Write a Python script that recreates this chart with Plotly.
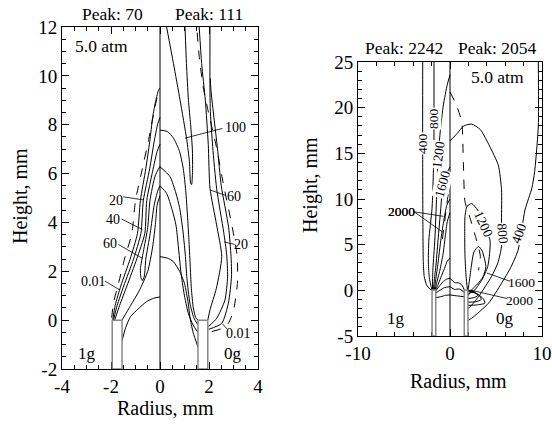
import plotly.graph_objects as go

FONT = "Liberation Serif"

# ---------------- Left panel (Peak: 70 / Peak: 111) ----------------
# 1g half (x < 0)
A_dashed = [(-1.97, 0.1), (-1.9, 0.7), (-1.72, 1.4), (-1.45, 2.5), (-1.15, 3.55), (-1.0, 4.9),
            (-0.72, 6.2), (-0.46, 7.4), (-0.27, 8.4), (-0.12, 9.1), (-0.03, 9.35)]
A_001 = [(-1.93, 0.0), (-1.83, 0.6), (-1.6, 1.4), (-1.22, 2.5), (-0.92, 3.55), (-0.8, 4.9),
         (-0.58, 6.2), (-0.42, 7.3), (-0.3, 8.3), (-0.17, 9.0), (-0.06, 9.42), (0.0, 9.5)]
A_20 = [(-1.9, 0.0), (-1.75, 0.6), (-1.48, 1.4), (-1.08, 2.5), (-0.78, 3.55), (-0.68, 4.9),
        (-0.42, 6.2), (-0.24, 7.3), (-0.09, 8.05), (0.0, 8.3)]
A_40 = [(-1.85, 0.0), (-1.65, 0.6), (-1.35, 1.4), (-0.95, 2.5), (-0.62, 3.55), (-0.54, 4.9),
        (-0.3, 6.1), (-0.12, 6.9), (0.0, 7.2)]
A_60 = [(0.0, 6.3), (-0.2, 5.9), (-0.41, 4.9), (-0.5, 3.8), (-0.68, 2.8), (-0.8, 2.1), (-0.78, 1.75),
        (-0.72, 1.62), (-0.64, 1.8), (-0.58, 2.5), (-0.4, 3.55), (-0.24, 4.7), (-0.09, 5.3), (0.0, 5.5)]
A_inner = [(-1.55, 0.0), (-1.2, 0.6), (-0.85, 1.2), (-0.5, 2.0), (-0.3, 3.0), (-0.18, 4.0),
           (-0.12, 4.7), (0.0, 5.1)]
A_low = [(-1.55, -0.85), (-1.4, -0.3), (-1.2, 0.15), (-0.9, 0.45), (-0.55, 0.76), (-0.25, 0.9), (0.0, 0.95)]

# 0g half (x > 0)
B_c0 = [(0.0, 2.6), (0.3, 2.54), (0.54, 2.4), (0.8, 2.0), (1.0, 1.5), (1.15, 0.7), (1.22, 0.14),
        (1.35, -0.5), (1.55, -1.1)]
B_c1 = [(0.0, 5.5), (0.27, 5.19), (0.5, 4.5), (0.65, 3.9), (0.75, 3.0), (0.85, 2.0), (0.98, 1.1),
        (1.15, 0.3), (1.35, -0.2), (1.55, -0.5)]
B_c2 = [(0.0, 6.28), (0.41, 5.87), (0.65, 5.2), (0.8, 4.6), (0.93, 3.7), (1.03, 2.7), (1.1, 1.7),
        (1.22, 0.7), (1.38, 0.1), (1.55, -0.2)]
B_c3 = [(0.0, 7.78), (0.3, 7.72), (0.55, 7.45), (0.8, 6.9), (0.95, 6.2), (1.05, 5.3), (1.12, 4.3),
        (1.18, 3.3), (1.23, 2.3), (1.28, 1.3), (1.36, 0.5), (1.46, 0.1), (1.55, 0.0)]
B_100 = [(0.27, 12.0), (0.55, 10.5), (0.82, 9.0), (1.09, 7.4), (1.2, 6.5), (1.25, 5.6), (1.29, 5.55),
         (1.33, 6.2), (1.32, 7.0), (1.25, 8.0), (1.16, 9.0), (1.08, 10.5), (1.02, 12.0)]
B_60 = [(1.95, 0.0), (2.04, 0.42), (2.3, 1.3), (2.52, 2.6), (2.31, 3.9), (2.04, 5.4), (1.97, 7.2),
        (1.85, 9.0), (1.7, 10.5), (1.6, 12.0)]
B_20 = [(1.97, -0.27), (2.31, 0.07), (2.65, 0.82), (2.76, 1.8), (2.72, 2.7), (2.6, 3.6), (2.31, 5.4),
        (2.15, 7.1), (2.05, 8.7), (2.04, 12.0)]
B_001 = [(1.98, -0.38), (2.52, -0.13), (2.79, 0.69), (2.92, 1.8), (2.9, 2.6), (2.8, 3.8), (2.5, 5.5),
         (2.35, 7.0), (2.2, 8.3), (2.09, 9.3), (2.05, 9.9)]
B_dashed = [(2.11, -0.47), (2.5, -0.35), (2.79, -0.13), (3.0, 0.4), (3.16, 1.5), (3.15, 2.6), (2.95, 3.8),
            (2.6, 5.5), (2.3, 7.1), (2.0, 8.4), (1.77, 9.5), (1.6, 10.8), (1.5, 12.0)]

left_solid = [A_001, A_20, A_40, A_60, A_inner, A_low, B_c0, B_c1, B_c2, B_c3, B_100, B_60, B_20, B_001]
left_dashed = [A_dashed, B_dashed]

# contour labels: (text, label x, label y, leader x0, y0, x1, y1)
left_labels = [("100", 3.1, 7.87, 2.55, 7.85, 1.02, 7.45),
               ("60", 3.0, 5.05, 2.7, 5.1, 2.04, 5.33),
               ("20", 3.3, 3.1, 3.05, 3.1, 2.62, 3.2),
               ("0.01", 3.2, -0.55, 2.75, -0.38, 2.55, -0.15),
               ("20", -1.8, 4.9, -1.5, 5.05, -0.68, 4.92),
               ("40", -1.9, 4.14, -1.57, 4.14, -0.72, 3.71),
               ("60", -2.04, 3.15, -1.7, 3.1, -0.72, 2.53),
               ("0.01", -2.73, 1.6, -2.25, 1.6, -1.63, 1.23)]

# ---------------- Right panel (Peak: 2242 / Peak: 2054) ----------------
C_400 = [(-2.97, 25.0), (-2.97, 15.0), (-2.95, 8.0), (-2.9, 3.0), (-2.8, 1.5), (-2.55, 0.6), (-2.2, 0.15), (-1.95, 0.0)]
C_800 = [(-1.74, 25.0), (-1.76, 15.0), (-1.95, 9.0), (-2.3, 5.5), (-2.35, 3.0), (-2.25, 1.4), (-2.05, 0.4), (-1.95, 0.05)]
C_1200 = [(0.0, 23.6), (-0.3, 22.5), (-0.72, 20.3), (-1.05, 17.5), (-1.27, 14.8), (-1.45, 10.4),
          (-1.65, 5.5), (-1.85, 2.5), (-1.9, 1.0), (-1.9, 0.1)]
C_1600 = [(0.0, 13.5), (-0.45, 12.6), (-0.8, 11.4), (-1.0, 9.0), (-1.3, 5.5), (-1.55, 2.5), (-1.72, 1.0), (-1.8, 0.1)]
C_2000a = [(0.0, 10.0), (-0.35, 9.3), (-0.7, 7.5), (-1.0, 5.5), (-1.3, 3.0), (-1.55, 1.2), (-1.7, 0.1)]
C_2000b = [(0.0, 8.5), (-0.3, 7.5), (-0.5, 6.0), (-0.75, 4.0), (-1.1, 2.2), (-1.5, 0.6), (-1.62, 0.05)]
C_low1 = [(0.0, 3.5), (-0.3, 3.2), (-0.6, 2.4), (-1.0, 1.4), (-1.35, 0.5), (-1.55, 0.1)]
C_low2 = [(-1.55, -0.05), (-1.2, 0.4), (-0.8, 0.9), (-0.4, 1.2), (0.0, 1.33)]
C_low3 = [(-1.55, -0.3), (-1.1, 0.0), (-0.6, 0.3), (0.0, 0.4)]
C_low4 = [(-1.55, -0.8), (-1.0, -0.7), (-0.5, -0.55), (0.0, -0.5)]
D_bump1 = [(0.0, 1.33), (0.5, 0.85), (1.0, 0.8), (1.35, 0.5), (1.55, 0.05)]
D_bump2 = [(0.0, 0.4), (0.5, 0.1), (1.0, 0.15), (1.55, -0.2)]
D_bump3 = [(0.0, -0.5), (0.7, -0.6), (1.55, -0.7)]
D_400 = [(9.6, 25.0), (9.6, 18.0), (9.2, 13.0), (8.9, 11.2), (8.15, 8.8), (7.4, 4.4), (6.6, 2.5),
         (5.6, 0.77), (4.2, -1.4), (2.35, -3.06), (1.95, -3.3)]
D_800 = [(0.0, 16.35), (0.8, 17.2), (1.5, 18.0), (2.36, 18.2), (3.3, 17.6), (4.3, 15.8), (5.25, 13.7),
         (5.6, 11.0), (5.6, 7.7), (5.6, 4.8), (5.2, 3.0), (4.5, 1.5), (3.1, -0.7), (2.2, -1.8), (1.95, -2.0)]
D_1200 = [(1.9, 0.0), (1.75, 1.5), (1.63, 3.7), (1.6, 6.0), (1.63, 8.1), (1.85, 9.2), (2.36, 9.5),
          (3.0, 8.8), (3.6, 7.3), (4.35, 5.5), (4.3, 4.0), (4.1, 2.6), (3.5, 1.2), (2.7, 0.04), (2.2, -0.3), (1.95, -0.4)]
D_1600 = [(1.95, 0.0), (2.1, 1.0), (2.3, 2.5), (2.6, 4.2), (3.1, 4.8), (3.5, 4.3), (3.9, 2.6), (3.6, 1.5),
          (3.0, 0.7), (2.4, 0.1), (1.95, -0.6)]
D_2000a = [(1.95, 0.0), (2.4, -0.05), (2.8, -0.3), (3.0, -0.6), (2.6, -0.8), (1.95, -0.9)]
D_2000b = [(1.95, -0.05), (2.6, -0.2), (3.2, -0.6), (3.4, -1.0), (2.8, -1.25), (1.95, -1.3)]
D_2000c = [(1.95, -0.1), (2.9, -0.35), (3.6, -0.9), (3.8, -1.4), (2.9, -1.6), (1.95, -1.65)]
C_dashed = [(-0.2, 10.5), (-0.4, 9.0), (-0.65, 7.0), (-0.9, 5.0)]
D_dashed = [(0.0, 21.7), (0.6, 20.5), (1.27, 18.5), (1.45, 14.0), (1.63, 9.7), (2.0, 8.5), (2.36, 7.3),
            (2.8, 5.8), (3.15, 4.5), (3.3, 3.7), (3.1, 2.2)]

right_solid = [C_400, C_800, C_1200, C_1600, C_2000a, C_2000b, C_low1, C_low2, C_low3, C_low4,
               D_bump1, D_bump2, D_bump3, D_400, D_800, D_1200, D_1600, D_2000a, D_2000b, D_2000c]
right_dashed = [C_dashed, D_dashed]

# inline labels: (text, x, y, angle)
right_inline = [("400", -2.97, 16.1, -90), ("800", -1.8, 18.8, -90), ("1200", -1.3, 14.8, -82),
                ("1600", -0.85, 11.6, -75), ("1200", 3.6, 7.3, 65), ("800", 5.7, 6.2, 85), ("400", 7.5, 6.2, -70)]
# leader labels: (text, label x, label y, leader x0, y0, x1, y1)
right_labels = [("2000", -5.25, 8.6, -3.9, 8.6, -0.72, 8.1),
                ("2000", -5.25, 8.6, -3.9, 8.6, -0.83, 6.4),
                ("1600", 7.8, 0.9, 6.5, 1.0, 4.0, 1.9),
                ("2000", 7.5, -1.1, 6.2, -0.9, 2.2, 0.04)]

# axis ticks
left_xticks = [-4, -2, 0, 2, 4]
left_yticks = [-2, 0, 2, 4, 6, 8, 10, 12]
right_xticks = [-10, 0, 10]
right_yticks = [-5, 0, 5, 10, 15, 20, 25]

fig = go.Figure()


def add_lines(lines, xa, ya, dash):
    for ln in lines:
        fig.add_trace(go.Scatter(x=[p[0] for p in ln], y=[p[1] for p in ln], mode="lines",
                                 line=dict(color="black", width=1, dash=dash, shape="spline", smoothing=0.6),
                                 xaxis=xa, yaxis=ya, hoverinfo="skip", showlegend=False))


add_lines(left_solid, "x", "y", "solid")
add_lines(left_dashed, "x", "y", "dash")
add_lines(right_solid, "x2", "y2", "solid")
add_lines(right_dashed, "x2", "y2", "dash")

# centre lines
fig.add_trace(go.Scatter(x=[0, 0], y=[-2, 12], mode="lines", line=dict(color="black", width=1),
                         xaxis="x", yaxis="y", hoverinfo="skip", showlegend=False))
fig.add_trace(go.Scatter(x=[0, 0], y=[-5, 25], mode="lines", line=dict(color="black", width=1),
                         xaxis="x2", yaxis="y2", hoverinfo="skip", showlegend=False))

# burner tubes
for xa, ya, ybot in [("x", "y", -2), ("x2", "y2", -5)]:
    for x0, x1 in [(-1.95, -1.55), (1.55, 1.95)]:
        fig.add_shape(type="rect", x0=x0, x1=x1, y0=ybot, y1=0, xref=xa, yref=ya,
                      line=dict(color="#888888", width=1.5), fillcolor="white", layer="above")

# leader lines + labels
for xa, ya, labs, fs in [("x", "y", left_labels, 14), ("x2", "y2", right_labels, 13.5)]:
    for t, lx, ly, x0, y0, x1, y1 in labs:
        fig.add_trace(go.Scatter(x=[x0, x1], y=[y0, y1], mode="lines", line=dict(color="black", width=0.8),
                                 xaxis=xa, yaxis=ya, hoverinfo="skip", showlegend=False))
        fig.add_annotation(x=lx, y=ly, xref=xa, yref=ya, text=t, showarrow=False,
                           font=dict(family=FONT, size=fs, color="black"))
for t, x, y, ang in right_inline:
    fig.add_annotation(x=x, y=y, xref="x2", yref="y2", text=t, showarrow=False, textangle=ang,
                       bgcolor="white", borderpad=0, font=dict(family=FONT, size=13.5, color="black"))

W, H = 552, 424


def px_x(px):
    return px / W


def px_y(py):
    return 1 - py / H


def ann(text, px, py, size, anchor="center", angle=0):
    fig.add_annotation(x=px_x(px), y=px_y(py), xref="paper", yref="paper", text=text, showarrow=False,
                       xanchor=anchor, yanchor="middle", textangle=angle,
                       font=dict(family=FONT, size=size, color="black"))


ann("Peak: 70", 112, 14, 17.5)
ann("Peak: 111", 209, 14, 17.5)
ann("Peak: 2242", 404, 48, 17.5)
ann("Peak: 2054", 497, 48, 17.5)
ann("5.0 atm", 73, 46, 17.5, "left")
ann("5.0 atm", 469, 77, 17.5, "left")
ann("1g", 87, 353, 17)
ann("0g", 233, 353, 17)
ann("1g", 396, 318, 17)
ann("0g", 505, 318, 17)
ann("Radius, mm", 165, 408, 20)
ann("Radius, mm", 458, 381, 20)
ann("Height, mm", 20, 196, 20, angle=-90)
ann("Height, mm", 310, 185, 20, angle=-90)


def fmt(v):
    return str(v).replace("\u2212", "-")


axis_common = dict(showline=True, linecolor="black", linewidth=1, mirror="ticks", ticks="inside",
                   ticklen=7, tickcolor="black", showgrid=False, zeroline=False, automargin=False,
                   tickfont=dict(family=FONT, size=19, color="black"))

fig.update_layout(
    template="none",
    width=W, height=H, margin=dict(l=0, r=0, t=0, b=0),
    paper_bgcolor="white", plot_bgcolor="white",
    xaxis=dict(domain=[px_x(62), px_x(258)], range=[-4, 4], tickvals=left_xticks,
               ticktext=[fmt(v) for v in left_xticks], anchor="y",
               minor=dict(dtick=0.5, ticks="inside", ticklen=4, tickcolor="black"), **axis_common),
    yaxis=dict(domain=[px_y(369), px_y(27)], range=[-2, 12], tickvals=left_yticks,
               ticktext=[fmt(v) for v in left_yticks], anchor="x",
               minor=dict(dtick=0.5, ticks="inside", ticklen=4, tickcolor="black"), **axis_common),
    xaxis2=dict(domain=[px_x(358), px_x(542)], range=[-10, 10], tickvals=right_xticks,
                ticktext=[fmt(v) for v in right_xticks], anchor="y2",
                minor=dict(dtick=2, ticks="inside", ticklen=4, tickcolor="black"), **axis_common),
    yaxis2=dict(domain=[px_y(336), px_y(62)], range=[-5, 25], tickvals=right_yticks,
                ticktext=[fmt(v) for v in right_yticks], anchor="x2",
                minor=dict(dtick=1, ticks="inside", ticklen=4, tickcolor="black"), **axis_common),
)

# remove the default page margin so the 552x424 figure fills the window exactly
fig.write_html("out.html",
               config={"displayModeBar": False, "staticPlot": True},
               post_script="document.body.style.margin='0';document.body.style.overflow='hidden';"
                           "document.documentElement.style.overflow='hidden';")
